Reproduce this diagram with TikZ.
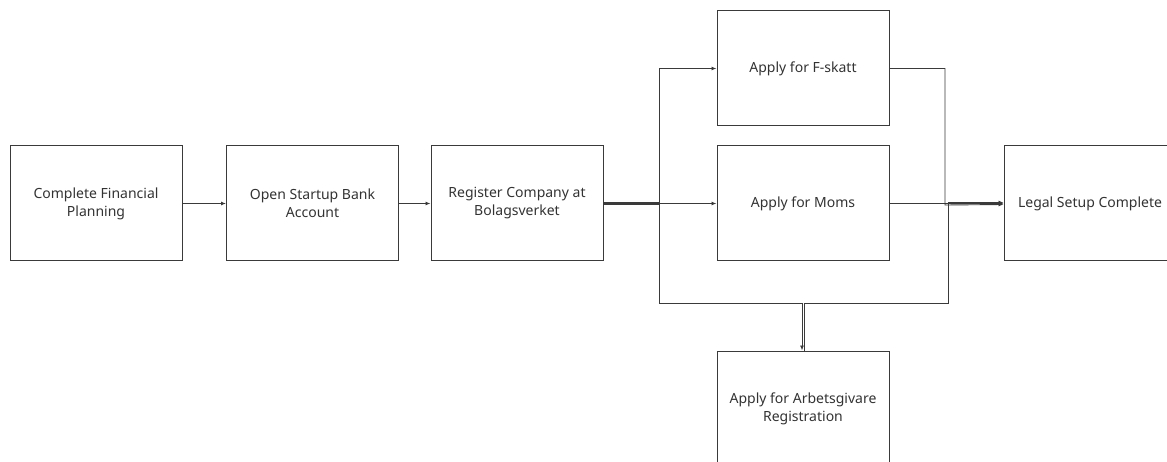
\documentclass[tikz,border=0pt]{standalone}
\usepackage{fontspec}
\setmainfont{Noto Sans}
\usetikzlibrary{arrows.meta}
\definecolor{ink}{HTML}{333333}
\definecolor{edge}{HTML}{3A3A3A}
\begin{document}
\begin{tikzpicture}[x=1pt,y=-1pt,
  stepbox/.style={draw=edge, line width=1pt, fill=white, minimum width=172pt,
    minimum height=115pt, inner sep=0pt, align=center, text=ink,
    font=\fontsize{14}{18}\selectfont},
  link/.style={draw=edge, line width=0.9pt, -{Latex[length=5pt,width=4pt]}}]
\useasboundingbox (0,0) rectangle (1167,462);
\begin{scope}
\clip (0,0) rectangle (1167,462);
% process steps
\node[stepbox] (fin)   at (96,203.5)   {Complete Financial\\Planning};
\node[stepbox] (bank)  at (312.5,203.5) {Open Startup Bank\\Account};
\node[stepbox] (reg)   at (517,203.5)  {Register Company at\\Bolagsverket};
\node[stepbox] (fsk)   at (803,68.5)   {Apply for F-skatt};
\node[stepbox] (moms)  at (803,203.5)  {Apply for Moms};
\node[stepbox] (arb)   at (803,408.5)  {Apply for Arbetsgivare\\Registration};
\node[stepbox] (legal) at (1090,203.5) {Legal Setup Complete};
% routing points
\coordinate (split) at (659,204);
\coordinate (merge) at (946,204);
\coordinate (busL)  at (659,303);
\coordinate (busR)  at (948,303);
% sequential chain
\draw[link] (fin.east) -- (bank.west);
\draw[link] (bank.east) -- (reg.west);
% fan-out from registration
\draw[link] ([yshift=-1pt]reg.east) -- ([yshift=-1pt]reg.east -| split) |- (fsk.west);
\draw[link] (reg.east) -- (moms.west);
\draw[link] ([yshift=1pt]reg.east) -- ([yshift=1pt]reg.east -| split) -- (busL)
  -- ([xshift=-1pt]busL -| arb.north) -- ([xshift=-1pt]arb.north);
% fan-in to completion
\draw[link] (fsk.east) -- ([xshift=-1pt]fsk.east -| merge) -- ([xshift=-1pt,yshift=-1pt]merge)
  -- ([yshift=-1pt]legal.west);
\draw[link] (moms.east) -- (legal.west);
\draw[link] ([xshift=1pt]arb.north) -- ([xshift=1pt]busL -| arb.north) -- (busR)
  -- ([yshift=1pt]busR |- legal.west) -- ([yshift=1pt]legal.west);
\end{scope}
\end{tikzpicture}
\end{document}
